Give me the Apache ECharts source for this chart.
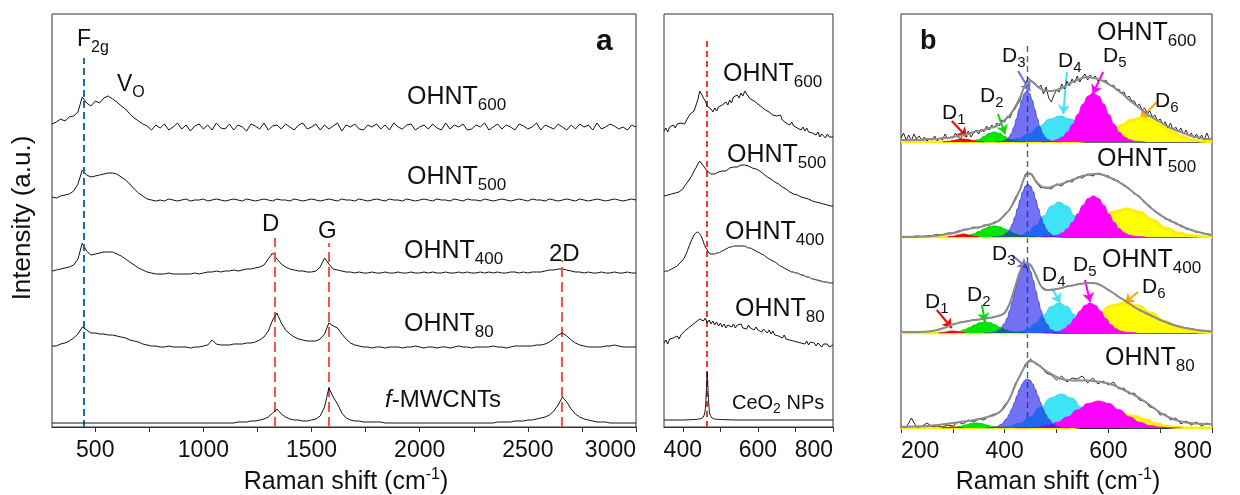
<!DOCTYPE html>
<html><head><meta charset="utf-8">
<script src="https://cdn.jsdelivr.net/npm/echarts@6/dist/echarts.min.js"></script>
<style>html,body{margin:0;padding:0;background:#fff}#c{width:1240px;height:495px}</style>
</head><body><div id="c"></div>
<script>
// ---------------- DATA ----------------
// Panel a : Raman spectra, x from 300 to 3000 cm-1 every 20 cm-1 (offset intensities, a.u.)
const aStart = 300, aStep = 20;
const a600 = [
 303,305,308,306,310,311,315,330,324,321,
 326,324,329,331,328,325,321,318,313,309,
 306,303,301,297,302,299,303,297,300,304,
 298,302,296,301,303,298,302,297,304,299,
 298,303,297,302,300,296,303,301,298,304,
 297,301,302,298,303,300,297,302,304,298,
 300,303,297,302,298,301,304,296,302,300,
 303,298,297,302,300,303,298,302,297,304,
 300,298,302,303,297,300,302,298,303,299,
 297,304,298,302,300,303,297,298,302,300,
 304,297,300,303,298,302,300,297,303,301,
 298,300,304,297,302,300,298,303,300,297,
 302,298,303,300,302,297,304,298,300,303,
 301,298,300,297,302,300];
const a500 = [
 230,229,231,232,233,236,243,257,252,250,
 251,252,253,254,254,253,250,247,243,238,
 234,231,228,227,226,227,226,228,227,226,
 227,228,226,227,227,228,226,227,228,227,
 226,227,228,227,226,228,227,226,227,228,
 227,226,228,227,227,226,228,227,226,227,
 228,227,226,227,228,227,226,228,227,227,
 226,228,227,226,227,228,227,226,228,227,
 227,226,228,227,226,227,228,227,226,228,
 227,227,226,228,227,226,228,227,227,226,
 228,227,226,227,228,227,226,227,228,227,
 226,228,227,227,226,228,227,226,227,228,
 227,226,228,227,226,227,228,227,226,227,
 228,227,226,227,228,227];
const a400 = [
 156,157,158,159,160,162,168,184,176,172,
 173,174,175,175,175,173,171,168,165,162,
 159,157,155,154,153,153,153,154,153,153,
 153,153,153,154,153,154,155,155,156,155,
 156,156,157,156,157,158,158,159,160,162,
 168,174,168,163,160,158,157,156,156,155,
 155,156,160,169,163,158,157,156,155,155,
 154,155,154,154,155,154,154,155,154,154,
 155,154,154,155,154,154,155,154,155,154,
 154,155,154,154,155,154,155,154,154,155,
 154,155,154,155,154,154,155,155,154,155,
 154,155,155,155,156,157,157,158,158,157,
 156,155,155,154,155,154,154,155,154,154,
 155,154,154,155,154,154];
const a80 = [
 81,81,83,84,86,89,93,100,97,94,
 94,93,93,92,92,91,90,89,87,86,
 85,83,82,81,81,80,80,81,80,80,
 80,80,79,80,80,81,82,87,83,82,
 82,82,83,83,83,84,84,85,87,90,
 96,107,114,104,97,93,90,88,87,86,
 86,86,88,93,104,101,99,93,88,84,
 82,81,80,80,79,80,80,79,80,80,
 80,79,80,80,81,80,79,80,80,79,
 80,80,79,80,81,80,80,79,80,80,
 80,80,81,80,80,79,80,81,81,81,
 81,81,82,82,83,85,88,92,94,91,
 87,84,82,81,80,80,80,80,81,81,
 82,81,80,80,80,80];
const aMW = [
 4,4,4,4,4,4,4,4,4,4,
 4,4,4,4,4,4,4,4,4,4,
 4,4,4,4,4,4,4,4,4,4,
 4,4,4,4,4,4,4,4,4,4,
 4,4,4,5,5,5,6,6,7,8,
 10,14,18,13,10,8,7,7,6,6,
 7,8,11,20,39,30,23,14,9,7,
 6,6,5,5,5,5,5,4,4,4,
 4,4,4,4,4,4,4,4,4,4,
 4,4,4,4,4,4,4,4,4,4,
 4,4,4,5,5,5,5,6,6,6,
 7,7,8,9,10,12,16,22,30,25,
 18,13,10,8,7,6,5,5,5,4,
 4,4,4,4,4,4];
const aPeaks = {F2g:446, D:1330, G:1578, D2:2658};

// Middle panel : x from 350 to 800 every 5 cm-1
const mStart = 350, mStep = 5;
const m600 = [
 296,299,295,300,298,302,299,303,301,304,
 305,303,307,310,313,311,316,318,327,336,
 333,329,326,321,323,318,315,319,316,320,
 318,322,320,325,322,327,324,330,328,332,
 329,334,331,336,333,331,328,330,326,327,
 323,325,320,321,317,319,315,316,312,314,
 311,309,312,307,308,304,306,302,305,301,
 303,299,301,297,300,296,299,295,297,294,
 296,292,295,290,293,291,289,293,290,292,
 290];
const m500 = [
 231,230,232,231,233,232,234,233,235,236,
 238,241,243,246,249,252,256,259,263,266,
 264,261,259,256,255,253,254,253,254,255,
 255,256,257,256,258,259,258,260,261,260,
 261,262,261,262,260,261,260,259,259,258,
 256,256,254,253,252,250,249,248,247,245,
 244,243,242,240,239,238,237,235,234,233,
 233,232,231,230,231,229,228,228,227,226,
 226,225,226,224,223,223,222,222,221,221,
 221];
const m400 = [
 155,156,156,157,158,159,160,161,163,165,
 167,170,174,179,184,188,192,194,195,193,
 190,185,180,177,174,173,173,173,174,174,
 175,176,177,178,179,180,180,181,181,181,
 181,181,181,181,180,179,179,178,177,176,
 175,174,173,172,171,169,168,167,166,165,
 164,162,161,160,159,158,157,156,155,155,
 154,154,153,152,152,151,150,150,149,148,
 148,147,147,146,146,145,145,145,144,144,
 144];
const m80 = [
 84,87,83,88,86,89,87,91,88,92,
 93,96,94,99,97,102,100,105,103,108,
 110,106,109,104,107,103,106,102,105,101,
 104,100,103,99,102,104,100,103,99,102,
 100,103,99,101,98,102,99,100,97,100,
 97,99,95,98,96,94,97,93,96,92,
 94,91,93,89,92,88,90,87,89,86,
 88,85,87,84,86,83,86,82,85,83,
 84,81,84,82,80,83,81,83,80,82,
 82];
const mCeO2 = [[350,7],[400,7],[430,7.5],[445,8],[452,9],[456,11],[459,15],[461,22],[463,38],[465,55],[467,40],[469,24],[471,15],[474,11],[478,9],[485,8],[500,7.5],[550,7],[650,7],[800,7]];
const mPeak = 465;

// Panel b : deconvolution, x 200-800
const bStart = 200;
const b600raw = [ // every 5 cm-1
 4,9,2,7,1,8,3,6,2,5,
 1,3,2,6,1,4,2,8,3,5,
 4,9,5,3,8,6,11,5,9,12,
 8,13,10,16,12,17,14,19,16,22,
 20,26,24,30,33,38,42,52,58,64,
 62,60,58,54,57,48,55,44,40,47,
 52,50,58,53,61,56,63,59,66,60,
 65,68,62,67,64,66,61,63,60,62,
 58,56,57,52,53,49,50,44,46,41,
 41,36,38,32,34,28,31,25,27,21,
 23,18,20,14,19,12,15,10,14,8,
 12,6,9,4,8,3,7,2,9,3,
 4];
const b600fit = [ // every 10 cm-1
 2,2,2,2,2,3,3,3,4,4,
 5,6,7,8,10,11,12,14,15,18,
 22,27,35,45,57,61,57,53,51,51,
 52,54,57,60,62,64,65,64,63,61,
 58,55,51,47,42,38,34,30,26,23,
 20,17,14,12,10,8,6,5,4,3,3];
const b500raw = [
 0,0.5,0,1,0.5,1,1.5,2.5,2,4,
 4,6,7,7.5,10,9,12,11.5,15,16,
 23,27,39,47,63,64,55,49,50,48,
 53,51,56,55,60,59,63,61,64,62,
 61,57,56,51,49,43,41,34,31,25,
 23,18,17,13,12,8,7.5,4.5,4.5,2.5,2];
const b500fit = [
 0,0,0,0,0.3,0.5,1,1.5,2.2,3,
 3.7,5,7,8,9,9.7,11,12.5,14,17,
 22,28,37,48,61,63,56,51,49,50,
 52,53,55,57,59,61,62,63,63,62,
 60,58,55,52,48,44,40,35,30,26,
 22,19,16,14,11,9,7,5.5,4,3,2];
const b400raw = [
 1.5,0.8,1.3,0.9,1.5,1.3,2.3,2.8,4.8,6.3,
 8.8,9.7,11.3,11.8,13.3,13.2,14.5,14.8,16.3,17.2,
 20.4,29.6,46.5,61.5,70.5,67.5,58.4,46.6,43.4,42.6,
 44.4,44.7,46.9,47.2,48.9,49.2,50.4,49.7,49.3,46.2,
 43.3,39.7,36.4,32.7,29.8,25.7,23.3,20.2,18.4,15.2,
 13.3,10.7,9.6,7.2,6.3,4.7,4.3,3.4,2.2,2.3,1.3];
const b400fit = [
 1,1,1,1,1.2,1.5,2,3,4.5,6.5,
 8.5,10,11,12,13,13.5,14.2,15,16,17.5,
 20,30,46,62,70,68,58,47,43,43,
 44,45,46.5,47.5,48.5,49.5,50,50,49,46.5,
 43,40,36,33,29.5,26,23,20.5,18,15.5,
 13,11,9,7.5,6,5,4,3,2.5,2,1.5];
const b80raw = [
 2,0.5,10,1,1.5,5,1.5,2,1,3,
 2,6,4,8,6,9,8,12,14,15,
 23,29,44,52,64,69,64,62,55,53,
 48,52,46,50,49,52,45,50,44,47,
 43,46,39,40,34,35,28,27,21,20,
 13,14,8,10,4,7,3,6,2,5,3];
const b80fit = [
 1,1.2,1.4,1.6,1.8,2,2.5,3,3.7,4.3,
 5,5.7,6.4,7,8,9,10,11.5,13,16,
 21,30,42,53,62,67,65,61,57,54,
 51,49,48,47.5,47.5,47.5,47.5,47,46.5,45.5,
 44.5,43,40.5,38,35.5,33,30,26.5,23,19,
 15.5,12.5,10,8,6.5,5.5,5,4.5,4.2,4,4];

// fitted components [x, intensity]
const c600 = {
 D1:[[280,0],[290,0.4],[300,1.2],[310,2.4],[320,3],[330,2.4],[340,1.2],[350,0.4],[360,0]],
 D2:[[320,0],[330,0.2],[340,0.9],[350,2.5],[360,5.4],[370,8.6],[380,10],[390,8.6],[400,5.4],[410,2.5],[420,0.9],[430,0.2],[440,0]],
 D3:[[383,0],[393,0.4],[403,2.2],[408,4.7],[413,8.8],[418,15],[423,23.4],[428,32.9],[433,41.9],[438,48.6],[443,51],[448,48.6],[453,41.9],[458,32.9],[463,23.4],[468,15],[473,8.8],[478,4.7],[483,2.2],[493,0.4],[503,0]],
 D4:[[347,0],[367,0.05],[387,0.3],[407,1.1],[427,3.5],[447,8.4],[467,15.8],[487,22.9],[507,26],[527,22.9],[547,15.8],[567,8.4],[587,3.5],[607,1.1],[627,0.3],[647,0.05],[667,0]],
 D5:[[471,0],[481,0.3],[491,0.8],[501,2.2],[511,4.9],[521,9.9],[531,17.6],[541,27.6],[551,38],[561,46],[571,49],[581,46],[591,38],[601,27.6],[611,17.6],[621,9.9],[631,4.9],[641,2.2],[651,0.8],[661,0.3],[671,0]],
 D6:[[200,0],[484,0],[504,0.1],[524,0.2],[544,0.7],[564,2],[584,4.9],[604,9.9],[624,16.2],[644,21.7],[664,24],[684,21.7],[704,16.2],[724,9.9],[744,4.9],[764,2],[784,0.7],[800,0.3]]
};
const c500 = {
 D1:[[290,0],[300,0.7],[310,2],[320,3],[330,2],[340,0.7],[350,0]],
 D2:[[290,0],[300,0.1],[310,0.2],[320,0.6],[330,1.5],[340,3.1],[350,5.4],[360,8],[370,10.2],[380,11],[390,10.2],[400,8],[410,5.4],[420,3.1],[430,1.5],[440,0.6],[450,0.2],[460,0]],
 D3:[[375,0],[385,0.2],[395,1.1],[405,4.5],[410,8],[415,13.2],[420,20.2],[425,28.6],[430,37.5],[435,45.4],[440,51],[445,53],[450,51],[455,45.4],[460,37.5],[465,28.6],[470,20.2],[475,13.2],[480,8],[485,4.5],[495,1.1],[505,0.2],[515,0]],
 D4:[[385,0],[400,0.1],[415,0.4],[430,1.5],[445,4.7],[460,11.4],[475,21.2],[490,30.9],[505,35],[520,30.9],[535,21.2],[550,11.4],[565,4.7],[580,1.5],[595,0.4],[610,0.1],[625,0]],
 D5:[[471,0],[481,0.2],[491,0.7],[501,1.8],[511,4.1],[521,8.3],[531,14.8],[541,23.1],[551,31.8],[561,38.5],[571,41],[581,38.5],[591,31.8],[601,23.1],[611,14.8],[621,8.3],[631,4.1],[641,1.8],[651,0.7],[661,0.2],[671,0]],
 D6:[[200,0],[460,0],[485,0.3],[510,1.2],[535,3.8],[560,9.1],[585,17],[610,24.7],[635,28],[660,24.7],[685,17],[710,9.1],[735,3.8],[760,1.2],[785,0.3],[800,0.1]]
};
const c400 = {
 D1:[[275,0],[285,0.6],[290,1.2],[295,1.8],[300,2],[305,1.8],[310,1.2],[315,0.6],[325,0]],
 D2:[[272,0],[282,0.1],[292,0.2],[302,0.6],[312,1.5],[322,3.1],[332,5.4],[342,8],[352,10.2],[362,11],[372,10.2],[382,8],[392,5.4],[402,3.1],[412,1.5],[422,0.6],[432,0.2],[442,0]],
 D3:[[360,0],[370,0.1],[380,0.8],[390,3.1],[400,9.5],[405,15.1],[410,22.8],[415,32.1],[420,42.5],[425,52.9],[430,61.7],[435,67.8],[440,70],[445,67.8],[450,61.7],[455,52.9],[460,42.5],[465,32.1],[470,22.8],[475,15.1],[480,9.5],[490,3.1],[500,0.8],[510,0.1],[520,0]],
 D4:[[385,0],[400,0.1],[415,0.3],[430,1.3],[445,4],[460,9.8],[475,18.2],[490,26.5],[505,30],[520,26.5],[535,18.2],[550,9.8],[565,4],[580,1.3],[595,0.3],[610,0.1],[625,0]],
 D5:[[475,0],[485,0.2],[495,0.6],[505,1.7],[515,4.1],[525,8.3],[535,14.6],[545,21.8],[555,27.7],[565,30],[575,27.7],[585,21.8],[595,14.6],[605,8.3],[615,4.1],[625,1.7],[635,0.6],[645,0.2],[655,0]],
 D6:[[200,0],[432,0],[457,0.2],[482,0.7],[507,2.3],[532,5.8],[557,11.9],[582,19.9],[607,27.1],[632,30],[657,27.1],[682,19.9],[707,11.9],[732,5.8],[757,2.3],[782,0.7],[800,0.3]]
};
const c80 = {
 D1:[[280,0],[290,0.6],[300,1],[310,0.6],[320,0]],
 D2:[[285,0],[295,0.2],[305,0.7],[315,1.6],[325,3],[335,4.4],[345,5],[355,4.4],[365,3],[375,1.6],[385,0.7],[395,0.2],[405,0]],
 D3:[[364,0],[374,0.3],[384,1.2],[394,3.7],[404,9.4],[409,13.8],[414,19.4],[419,25.7],[424,32.4],[429,38.9],[434,44.2],[439,47.7],[444,49],[449,47.7],[454,44.2],[459,38.9],[464,32.4],[469,25.7],[474,19.4],[479,13.8],[484,9.4],[494,3.7],[504,1.2],[514,0.3],[524,0]],
 D4:[[349,0],[369,0.1],[389,0.4],[409,1.5],[429,4.6],[449,11],[469,20.6],[489,30],[509,34],[529,30],[549,20.6],[569,11],[589,4.6],[609,1.5],[629,0.4],[649,0.1],[669,0]],
 D5:[[421,0],[441,0.2],[461,0.8],[481,2.3],[501,5.6],[521,11.1],[541,18.2],[561,24.5],[581,27],[601,24.5],[621,18.2],[641,11.1],[661,5.6],[681,2.3],[701,0.8],[721,0.2],[741,0]],
 D6:[[200,0],[512,0.1],[532,0.6],[552,1.8],[572,4.2],[592,7.9],[612,11.5],[632,13],[652,11.5],[672,7.9],[692,4.2],[712,1.8],[732,0.6],[752,0.1],[800,0]]
};
const bPeak = 443;

// tick labels
const aTicks = [500,750,1000,1250,1500,1750,2000,2250,2500,2750,3000];
const aLabels = [500,1000,1500,2000,2500,3000];
const mTicks = [400,500,600,700,800];
const mLabels = [400,600,800];
const bTicks = [200,300,400,500,600,700,800];
const bLabels = [200,400,600,800];

// ---------------- STYLE / LAYOUT ----------------
const FAM = '"Liberation Sans", Arial, Helvetica, sans-serif';
const K = '#111';
const COL = {D1:'#ff0000', D2:'#00e600', D3:'rgba(20,20,235,0.6)', D4:'#3ee3f5', D5:'#ff00ff', D6:'#ffff00'};
const STROKE = {D1:'#ff0000', D2:'#00d000', D3:'rgba(70,70,215,0.9)', D4:'#30d8ee', D5:'#ff00ff', D6:'#ffee00'};
const ARW = {D1:'#ff0000', D2:'#00dd00', D3:'#6f6fe8', D4:'#3ee3f5', D5:'#ff00ff', D6:'#ffa500'};

const grids = [
 {left:52, top:14, width:584, height:413, H:413},
 {left:664, top:14, width:169, height:413, H:413},
 {left:901, top:14, width:311, height:128, H:128},
 {left:901, top:142, width:311, height:95, H:95},
 {left:901, top:237, width:311, height:96, H:96},
 {left:901, top:333, width:311, height:95, H:95}
];

function steps(x0, dx, ys){ return ys.map((y,i)=>[x0+i*dx, y]); }

const series = [];
function L(i, data, color, w, extra){
  const s = Object.assign({type:'line', xAxisIndex:i, yAxisIndex:i, data, symbol:'none', showSymbol:false,
    silent:true, animation:false, clip:true, emphasis:{disabled:true}, lineStyle:{color, width:w},
    z: 2 + series.length}, extra||{});
  series.push(s); return s;
}
function dashML(items){
  return {silent:true, symbol:['none','none'], label:{show:false}, emphasis:{disabled:true}, animation:false,
    data: items.map(it=>[{coord:[it[0],it[1]], lineStyle:{color:it[3], width:it[4], type:it[5]}},{coord:[it[0],it[2]]}])};
}

// panel a
L(0, steps(aStart,aStep,a600), K, 1);
L(0, steps(aStart,aStep,a500), K, 1);
L(0, steps(aStart,aStep,a400), K, 1);
L(0, steps(aStart,aStep,a80), K, 1);
L(0, steps(aStart,aStep,aMW), K, 1, {markLine: dashML([
  [aPeaks.F2g,0,369,'#1f6d9a',2,[7,4]],
  [aPeaks.D,0,189,'#ff5050',2,[10,5]],
  [aPeaks.G,0,184,'#ff5050',2,[10,5]],
  [aPeaks.D2,0,167,'#ff5050',2,[10,5]]
])});
// middle panel
L(1, steps(mStart,mStep,m600), K, 1);
L(1, steps(mStart,mStep,m500), K, 1);
L(1, steps(mStart,mStep,m400), K, 1, {smooth:0.3});
L(1, steps(mStart,mStep,m80), K, 1);
L(1, mCeO2, K, 1, {smooth:0.2, markLine: dashML([[mPeak,0,386,'#ff3030',2,[6,4]]])});

// panel b
const arrows600 = [[298,21,327,5,'D1'],[387,28,401,8,'D2'],[426,71,449,51,'D3'],[520,70,513,28,'D4'],[590,70,570,48,'D5'],[696,41,661,23,'D6']];
const arrows400 = [[269,23,298,5,'D1'],[356,28,362,11,'D2'],[414,78,443,65,'D3'],[491,45,507,30,'D4'],[555,53,565,31,'D5'],[657,41,632,30,'D6']];
function arrowML(list){
  return {silent:true, symbol:['none','arrow'], symbolSize:9, label:{show:false}, emphasis:{disabled:true}, animation:false,
    data: list.map(a=>[{coord:[a[0],a[1]], lineStyle:{color:ARW[a[4]], width:2, type:'solid'}, itemStyle:{color:ARW[a[4]]}},{coord:[a[2],a[3]]}])};
}
function subPanel(i, comps, raw, rawStep, fit, topDash, arrows){
  ['D6','D4','D5','D2','D1','D3'].forEach(k=>{
    L(i, comps[k], STROKE[k], k==='D6'?3:1, {smooth:true, smoothMonotone:'x', areaStyle:{color:COL[k], opacity:1}});
  });
  L(i, steps(bStart,rawStep,raw), K, 0.9, {markLine: dashML([[bPeak,0,topDash,'#3e6689',1.4,[6,4]]])});
  const f = L(i, steps(bStart,10,fit), '#8c8c8c', 2, {smooth:0.4});
  if (arrows) f.markLine = arrowML(arrows);
}
subPanel(2, c600, b600raw, 5, b600fit, 98, arrows600);
subPanel(3, c500, b500raw, 10, b500fit, 95);
subPanel(4, c400, b400raw, 10, b400fit, 96, arrows400);
subPanel(5, c80, b80raw, 10, b80fit, 95);

// axes
const lab = {fontSize:23, color:K, fontFamily:FAM, margin:12, formatter: v => String(v)};
function xAx(i, min, max, ticks, labels, extra){
  const show = !!ticks;
  return {gridIndex:i, type:'value', min, max, splitLine:{show:false},
    axisLine:{show:show, lineStyle:{color:'#333', width:1}},
    axisTick:{show:show, length:5, customValues:ticks||[], lineStyle:{color:'#333'}},
    axisLabel: show ? Object.assign({show:true, customValues:labels}, lab, extra||{}) : {show:false}};
}
const xAxis = [
  xAx(0,300,3000,aTicks,aLabels,{alignMaxLabel:'right'}),
  xAx(1,350,800,mTicks,mLabels,{alignMaxLabel:'right'}),
  xAx(2,200,800), xAx(3,200,800), xAx(4,200,800),
  xAx(5,200,800,bTicks,bLabels,{alignMinLabel:'left', alignMaxLabel:'right'})
];
const yAxis = grids.map((g,i)=>({gridIndex:i, type:'value', min:0, max:g.H, show:false}));

// ---------------- TEXT ANNOTATIONS ----------------
const cv = document.createElement('canvas').getContext('2d');
function fontStr(size,o){ return (o.italic?'italic ':'')+(o.bold?'bold ':'')+size+'px '+FAM; }
function tw(t,size,o){ cv.font = fontStr(size,o||{}); return cv.measureText(t).width; }
function richText(x,y,parts,align){
  let total = 0; parts.forEach(p=> total += tw(p[0],p[1],p[3]||{}));
  let cx = align==='center' ? x-total/2 : x;
  const out = [];
  parts.forEach(p=>{
    const o = p[3]||{};
    out.push({type:'text', x:cx, y:y+p[2], silent:true, z:1000,
      style:{text:p[0], font:fontStr(p[1],o), fill:o.color||K, textAlign:'left', align:'left', textVerticalAlign:'middle', verticalAlign:'middle'}});
    cx += tw(p[0],p[1],o);
  });
  return out;
}
const ohnt = (s, big, small, dy) => [['OHNT',big,0],[s,small,dy]];
const dlab = n => [['D',21,0],[String(n),15,7]];
const texts = [
  [77,40,[['F',23,0],['2g',16,8]]],
  [117,85,[['V',23,0],['O',16,8]]],
  [407,97,ohnt('600',25,17,8.5)],
  [407,177,ohnt('500',25,17,8.5)],
  [404,251,ohnt('400',25,17,8.5)],
  [404,324,ohnt('80',25,17,8.5)],
  [385,400,[['f',24,0,{italic:true}],['-MWCNTs',24,0]]],
  [262,224,[['D',24,0]]],
  [318,231,[['G',24,0]]],
  [549,254,[['2D',24,0]]],
  [596,42,[['a',30,0,{bold:true}]]],
  [723,74,ohnt('600',25,17,8.5)],
  [727,155,ohnt('500',25,17,8.5)],
  [725,232,ohnt('400',25,17,8.5)],
  [735,309,ohnt('80',25,17,8.5)],
  [732,403,[['CeO',20,0],['2',14,6],[' NPs',20,0]]],
  [920,42,[['b',27,0,{bold:true}]]],
  [1097,33,ohnt('600',25,17,8.5)],
  [1097,159,ohnt('500',25,17,8.5)],
  [1102,260,ohnt('400',25,17,8.5)],
  [1105,358,ohnt('80',25,17,8.5)],
  [942,113,dlab(1)],[980,96,dlab(2)],[1002,56,dlab(3)],[1058,61,dlab(4)],[1103,56,dlab(5)],[1155,101,dlab(6)],
  [925,302,dlab(1)],[967,295,dlab(2)],[992,254,dlab(3)],[1042,275,dlab(4)],[1073,265,dlab(5)],[1142,287,dlab(6)]
];
let graphic = [];
texts.forEach(t=> graphic = graphic.concat(richText(t[0],t[1],t[2])));
const axTitle = [['Raman shift (cm',25,0],['-1',16,-7],[')',25,0]];
graphic = graphic.concat(richText(346,482,axTitle,'center'));
graphic = graphic.concat(richText(1058,482,axTitle,'center'));
graphic.push({type:'text', x:23, y:218, rotation:Math.PI/2, silent:true, z:1000,
  style:{text:'Intensity (a.u.)', font:fontStr(26,{}), fill:K, textAlign:'center', align:'center', textVerticalAlign:'middle', verticalAlign:'middle'}});

// ---------------- CHART ----------------
const chart = echarts.init(document.getElementById('c'), null, {renderer:'canvas'});
chart.setOption({
  animation:false,
  backgroundColor:'#ffffff',
  grid: grids.map(g=>({left:g.left, top:g.top, width:g.width, height:g.height, show:true, borderColor:'#333', borderWidth:1, backgroundColor:'transparent'})),
  xAxis, yAxis, series, graphic
});
</script></body></html>
